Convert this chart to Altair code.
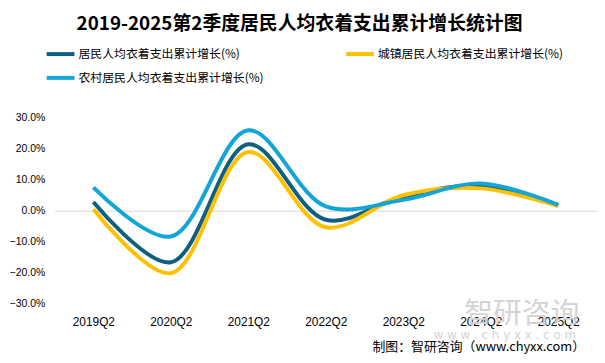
import altair as alt
import pandas as pd

categories = ["2019Q2", "2020Q2", "2021Q2", "2022Q2", "2023Q2", "2024Q2", "2025Q2"]
series_names = ["居民人均衣着支出累计增长(%)", "城镇居民人均衣着支出累计增长(%)", "农村居民人均衣着支出累计增长(%)"]
total = [2.8, -16.6, 21.4, -2.9, 4.6, 8.1, 1.8]
urban = [0.5, -20.1, 18.9, -5.3, 5.0, 7.2, 1.5]
rural = [7.5, -8.3, 25.9, 1.4, 3.5, 8.8, 1.9]
y_ticks = [-30, -20, -10, 0, 10, 20, 30]
colors = ["#0f5f80", "#ffc000", "#13a4d8"]

rows = []
for name, vals in zip(series_names, [total, urban, rural]):
    for c, v in zip(categories, vals):
        rows.append({"quarter": c, "series": name, "value": v})
df = pd.DataFrame(rows)

FONT = "Noto Sans CJK SC"

x_enc = alt.X("quarter:N", sort=categories, scale=alt.Scale(type="point", padding=0.5),
              axis=alt.Axis(title=None, labelAngle=0, domain=False, ticks=False, grid=False,
                            labelPadding=13, labelFontSize=12, labelColor="#000000",
                            labelFont="Liberation Sans"))
y_scale = alt.Scale(domain=[-30, 30], nice=False)

lines = alt.Chart(df).mark_line(strokeWidth=4, interpolate="catmull-rom").encode(
    x=x_enc,
    y=alt.Y("value:Q", scale=y_scale,
            axis=alt.Axis(title=None, values=y_ticks, domain=False, ticks=False,
                          grid=True, gridColor="#d9d9d9",
                          gridOpacity=alt.ExprRef(expr="datum.value === 0 ? 1 : 0"),
                          labelPadding=10, labelFontSize=10.5, labelColor="#000000",
                          labelFont="Liberation Sans", labelOverlap=False, labelBound=False,
                          labelExpr="format(datum.value, '.1f') + '%'")),
    color=alt.Color("series:N", sort=series_names,
                    scale=alt.Scale(domain=series_names, range=colors),
                    legend=alt.Legend(title=None, orient="none", legendX=-10, legendY=-80,
                                      direction="horizontal",
                                      columns=2, columnPadding=74, rowPadding=-2,
                                      symbolType="stroke", symbolSize=784, symbolStrokeWidth=4,
                                      labelFontSize=12, labelFont=FONT, labelColor="#000000",
                                      labelOffset=2, labelLimit=300)),
)

def label(text, x, y, size, color="#000000", weight="normal", align="center", font=FONT):
    return alt.Chart(pd.DataFrame({"t": [text]})).mark_text(
        fontSize=size, font=font, color=color, fontWeight=weight, align=align, baseline="middle"
    ).encode(text="t:N", x=alt.value(x), y=alt.value(y))

title = label("2019-2025第2季度居民人均衣着支出累计增长统计图", 247, -94, 19, weight="bold")
source = label("制图：智研咨询（www.chyxx.com）", 535, 231, 13, align="right")
wm1 = label("智研咨询", 471, 198, 29, color="#d4d4d4")
wm2 = label("w w w . c h y x x . c o m", 454, 219, 12, color="#d4d4d4", font="DejaVu Sans")

chart = alt.layer(lines, wm1, wm2, title, source).properties(
    width=547, height=188,
    autosize=alt.AutoSizeParams(type="none"),
    padding={"left": 47, "top": 109, "right": 0, "bottom": 50},
    background="white",
).configure_view(stroke=None)

chart.save("out.html", embed_options={"renderer": "svg", "actions": False})
